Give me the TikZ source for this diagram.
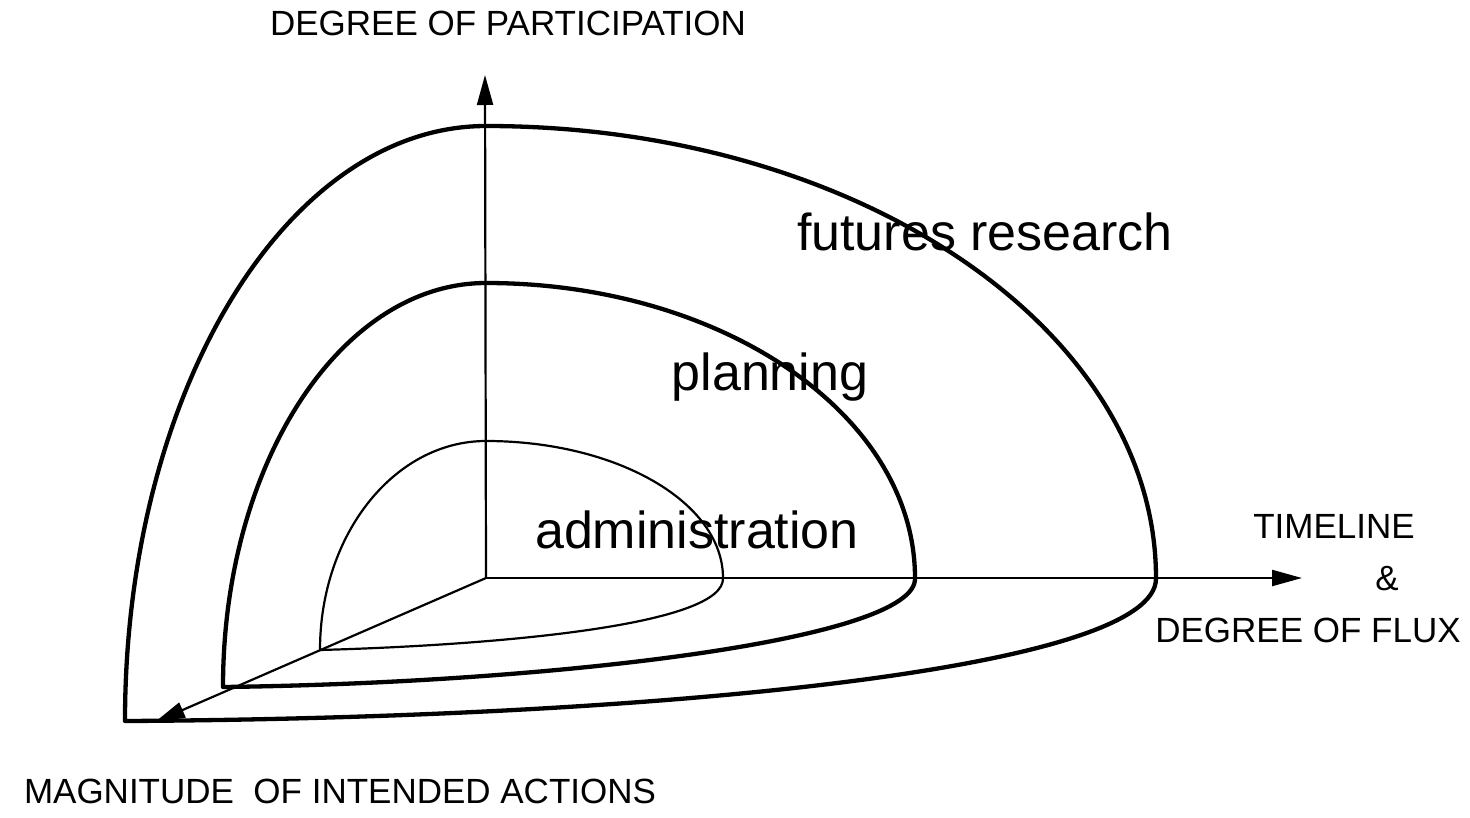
\documentclass[tikz,border=0pt]{standalone}
\usepackage{fontspec}
\setmainfont{Liberation Sans}
\usetikzlibrary{arrows.meta}

\tikzset{
    shell/.style={line width=4.3pt,line join=round},
    innershell/.style={line width=2.2pt,line join=round},
    axis/.style={line width=2.2pt,-{Triangle[length=30pt,width=16pt]}},
    caption/.style={font=\fontsize{35}{40}\selectfont,anchor=base},
    region/.style={font=\fontsize{52}{58}\selectfont,anchor=base},
}
\newcommand\ShellAxes[4]{%
    \coordinate (Origin) at (#1);
    \coordinate (PartTip) at (#2);
    \coordinate (FluxTip) at (#3);
    \coordinate (ActTip) at (#4);
    \draw[axis] (Origin) -- (PartTip);
    \draw[axis] (Origin) -- (FluxTip);
    \draw[axis] (Origin) -- (ActTip);
}

\begin{document}
\begin{tikzpicture}[x=1pt,y=-1pt]
    \useasboundingbox (0,0) rectangle (1470,817);
    % shells: left arc, right arc, front edge
    \draw[shell] (125,721) arc[start angle=180,end angle=270,x radius=361,y radius=595]
        arc[start angle=270,end angle=360,x radius=670,y radius=452]
        .. controls (1158,670) and (650,718) .. (125,721) -- cycle;
    \draw[shell] (223,687) arc[start angle=180,end angle=270,x radius=263,y radius=404]
        arc[start angle=270,end angle=360,x radius=429,y radius=295]
        .. controls (918,640) and (550,683) .. (223,687) -- cycle;
    \draw[innershell] (320,650) arc[start angle=180,end angle=270,x radius=166,y radius=209]
        arc[start angle=270,end angle=360,x radius=237,y radius=137]
        .. controls (725,625) and (500,645) .. (320,650) -- cycle;
    \ShellAxes{486,578}{485,75}{1302,578}{155,722}
    \node[region] (futures) at (985,250) {futures research};
    \node[region] (planning) at (770,390) {planning};
    \node[region] (admin) at (697,548) {administration};
    \node[caption] (participation) at (508,35) {DEGREE OF PARTICIPATION};
    \node[caption] (timeline) at (1334,538) {TIMELINE};
    \node[caption] (amp) at (1387,590) {\&};
    \node[caption] (flux) at (1308,642) {DEGREE OF FLUX};
    \node[caption] (magnitude) at (340,803) {MAGNITUDE\ \ OF INTENDED ACTIONS};
\end{tikzpicture}
\end{document}
